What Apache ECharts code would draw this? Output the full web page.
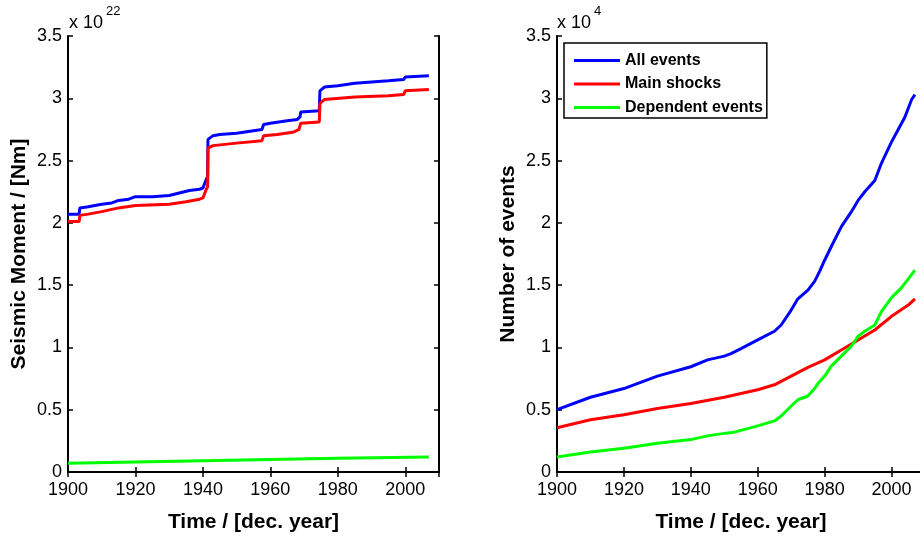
<!DOCTYPE html>
<html>
<head>
<meta charset="utf-8">
<script src="https://cdn.jsdelivr.net/npm/echarts@6/dist/echarts.min.js"></script>
<style>
  html, body { margin: 0; padding: 0; background: #fff; }
  #chart { width: 920px; height: 537px; }
</style>
</head>
<body>
<div id="chart"></div>
<script>
// left panel: cumulative seismic moment (x 10^22 Nm), [year, value]
var momentAll = [[1900,2.07],[1903.3,2.07],[1903.5,2.12],[1906,2.13],[1910,2.15],[1913,2.16],[1915,2.18],[1918,2.19],[1920,2.21],[1925,2.21],[1930,2.22],[1933,2.24],[1936,2.26],[1939,2.27],[1940,2.28],[1941,2.35],[1941.4,2.37],[1941.5,2.67],[1943,2.70],[1945,2.71],[1950,2.72],[1955,2.74],[1957.5,2.75],[1958,2.79],[1960,2.80],[1965,2.82],[1968,2.83],[1968.8,2.85],[1969,2.89],[1974.5,2.90],[1974.7,3.06],[1976,3.09],[1980,3.10],[1985,3.12],[1995,3.14],[1999.5,3.15],[2000,3.17],[2007,3.18]];
var momentMain = [[1900,2.01],[1903.3,2.01],[1903.5,2.06],[1906,2.07],[1910,2.09],[1915,2.12],[1920,2.14],[1930,2.15],[1935,2.17],[1939,2.19],[1940,2.20],[1941,2.27],[1941.4,2.29],[1941.5,2.60],[1943,2.62],[1950,2.64],[1957.5,2.66],[1958,2.70],[1962,2.71],[1967,2.73],[1968.5,2.75],[1969,2.80],[1974.5,2.81],[1974.7,2.96],[1976,2.99],[1985,3.01],[1995,3.02],[1999.5,3.03],[2000,3.06],[2007,3.07]];
var momentDep = [[1900,0.07],[1920,0.08],[1940,0.09],[1960,0.10],[1980,0.11],[2007,0.12]];

// right panel: cumulative number of events (x 10^4)
var countYears = [1900,1910,1920,1930,1940,1945,1950,1952,1955,1960,1965,1967,1970,1972,1975,1977,1978.5,1980,1982,1985,1988,1990,1992,1995,1997,2000,2002,2004,2006,2007];
var countAll  = [0.50,0.60,0.67,0.77,0.845,0.90,0.93,0.95,0.99,1.06,1.13,1.18,1.30,1.39,1.46,1.53,1.61,1.70,1.81,1.97,2.09,2.18,2.25,2.34,2.48,2.65,2.75,2.85,2.99,3.03];
var mainYears = [1900,1910,1920,1930,1940,1950,1960,1965,1970,1975,1980,1985,1990,1995,2000,2005,2007];
var countMain = [0.355,0.42,0.46,0.51,0.55,0.60,0.66,0.70,0.77,0.84,0.90,0.98,1.06,1.14,1.25,1.34,1.39];
var depYears = [1900,1910,1920,1930,1940,1945,1950,1953,1960,1965,1967,1970,1972,1975,1977,1978,1980,1982,1985,1988,1990,1992,1995,1997,2000,2003,2005,2007];
var countDep = [0.12,0.16,0.19,0.23,0.26,0.29,0.31,0.32,0.37,0.41,0.45,0.53,0.58,0.61,0.67,0.71,0.77,0.85,0.93,1.01,1.09,1.13,1.18,1.29,1.40,1.48,1.55,1.62];

function pairs(xs, ys) {
    return xs.map(function (x, i) { return [x, ys[i]]; });
}

var FONT = "'Liberation Sans', Arial, sans-serif";
var tickLabel = { color: '#000', fontFamily: FONT, fontSize: 18 };
var nameStyle = { color: '#000', fontFamily: FONT, fontSize: 21, fontWeight: 'bold' };
var line = { show: true, lineStyle: { color: '#000', width: 2 } };
var tick = { show: true, inside: true, length: 5, lineStyle: { color: '#000', width: 1.5 } };

function xAx(grid, bottom) {
    return {
        type: 'value', gridIndex: grid, min: 1900, max: 2010, interval: 20,
        position: bottom ? 'bottom' : 'top',
        name: bottom ? 'Time / [dec. year]' : '', nameLocation: 'middle', nameGap: 40,
        nameTextStyle: nameStyle,
        axisLine: line, axisTick: tick, splitLine: { show: false },
        axisLabel: bottom ? Object.assign({ margin: 9, formatter: function (v) { return v % 20 === 0 && v <= 2000 ? v : ''; } }, tickLabel) : { show: false }
    };
}
function yAx(grid, left, name) {
    return {
        type: 'value', gridIndex: grid, min: 0, max: 3.5, interval: 0.5,
        position: left ? 'left' : 'right',
        name: left ? name : '', nameLocation: 'middle', nameGap: 38,
        nameTextStyle: nameStyle,
        axisLine: line, axisTick: tick, splitLine: { show: false },
        axisLabel: left ? Object.assign({ margin: 6, formatter: function (v) { return String(v); } }, tickLabel) : { show: false }
    };
}

// "x 10" with a raised exponent, MATLAB style
var sup = function (base, exp) {
    return {
        text: '{a|' + base + '}{b|' + exp + '}',
        rich: {
            a: { fontFamily: FONT, fontSize: 18, fill: '#000', padding: [10, 0, 0, 0] },
            b: { fontFamily: FONT, fontSize: 13, fill: '#000', padding: [0, 0, 14, 3] }
        }
    };
};

var chart = echarts.init(document.getElementById('chart'));
var option = {
    backgroundColor: '#fff',
    animation: false,
    textStyle: { fontFamily: FONT },
    grid: [
        { left: 68, top: 36, width: 371, height: 436, outerBoundsMode: 'none' },
        { left: 557, top: 36, width: 368, height: 436, outerBoundsMode: 'none' }
    ],
    xAxis: [xAx(0, true), xAx(0, false), xAx(1, true), xAx(1, false)],
    yAxis: [yAx(0, true, 'Seismic Moment / [Nm]'), yAx(0, false), yAx(1, true, 'Number of events'), yAx(1, false)],
    legend: {
        left: 564, top: 43, orient: 'vertical',
        data: ['All events', 'Main shocks', 'Dependent events'],
        icon: 'rect', itemWidth: 46, itemHeight: 3, itemGap: 6.5,
        padding: [9, 4, 2, 10],
        borderColor: '#000', borderWidth: 1.5, backgroundColor: '#fff',
        textStyle: { color: '#000', fontFamily: FONT, fontSize: 16, fontWeight: 'bold', lineHeight: 17 }
    },
    graphic: [
        { type: 'text', left: 69, top: 5, style: sup('x 10', '22') },
        { type: 'text', left: 557, top: 5, style: sup('x 10', '4') }
    ],
    series: [
        { type: 'line', name: 'All events', xAxisIndex: 0, yAxisIndex: 0, data: momentAll, showSymbol: false, color: '#0000ff', lineStyle: { width: 3 } },
        { type: 'line', name: 'Main shocks', xAxisIndex: 0, yAxisIndex: 0, data: momentMain, showSymbol: false, color: '#ff0000', lineStyle: { width: 3 } },
        { type: 'line', name: 'Dependent events', xAxisIndex: 0, yAxisIndex: 0, data: momentDep, showSymbol: false, color: '#00ff00', lineStyle: { width: 3 } },
        { type: 'line', name: 'All events', xAxisIndex: 2, yAxisIndex: 2, data: pairs(countYears, countAll), showSymbol: false, color: '#0000ff', lineStyle: { width: 3 } },
        { type: 'line', name: 'Main shocks', xAxisIndex: 2, yAxisIndex: 2, data: pairs(mainYears, countMain), showSymbol: false, color: '#ff0000', lineStyle: { width: 3 } },
        { type: 'line', name: 'Dependent events', xAxisIndex: 2, yAxisIndex: 2, data: pairs(depYears, countDep), showSymbol: false, color: '#00ff00', lineStyle: { width: 3 } }
    ]
};
chart.setOption(option);
</script>
</body>
</html>
